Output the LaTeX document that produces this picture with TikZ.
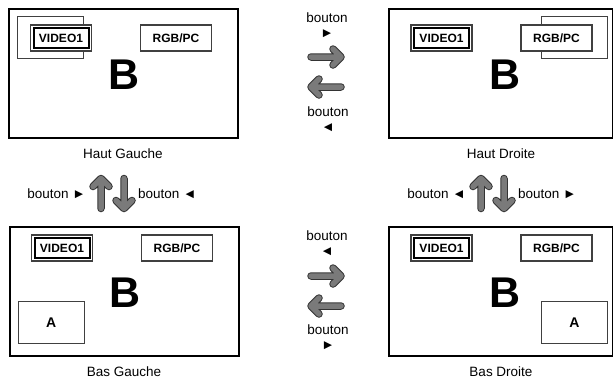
\documentclass[tikz,border=0pt]{standalone}
\usepackage{fontspec}
\setmainfont{Liberation Sans}
\usetikzlibrary{positioning}

\begin{document}
\begin{tikzpicture}[x=1pt, y=-1pt,
  screen/.style={draw, line width=2pt, minimum height=129pt, inner sep=0pt, anchor=north west},
  caption/.style={font=\fontsize{13.5}{15}\selectfont},
  btn/.style={font=\fontsize{13.5}{15}\selectfont, align=center, inner sep=0pt},
  bigB/.style={font=\fontsize{43}{43}\selectfont\bfseries, inner sep=0pt},
  winframe/.style={draw=black!75, line width=1pt, minimum width=66pt, minimum height=42pt, inner sep=0pt},
  abox/.style={winframe, line width=1.2pt, font=\fontsize{14}{14}\selectfont\bfseries},
  srcbox/.style={draw=black!75, line width=1.2pt, fill=white, minimum height=26pt, inner sep=0pt, font=\fontsize{12}{12}\selectfont\bfseries},
  selbox/.style={draw, line width=2pt, minimum width=55pt, minimum height=20pt, inner sep=0pt, font=\fontsize{12}{12}\selectfont\bfseries},
  big arrow/.pic={
    \draw[line width=7.5pt, black!80, line cap=round, line join=round] (-15,0) -- (15,0) (7,-8) -- (15,0) -- (7,8);
    \draw[line width=5.5pt, black!52, line cap=round, line join=round] (-15,0) -- (15,0) (7,-8) -- (15,0) -- (7,8);
  }]
\path[use as bounding box] (0,0) rectangle (613,383);

% the four screens
\foreach \n/\x/\y/\w/\lab in {HG/7.5/8/229/Haut Gauche, HD/388/8/224/Haut Droite,
                              BG/8.5/226/229/Bas Gauche, BD/388/226/224/Bas Droite}{
  \node[screen, minimum width=\w] (\n) at (\x,\y) {};
  \node[caption] (\n-cap) at ([yshift=-15pt]\n.south) {\lab};
  \node[bigB] (\n-B) at ([shift={(117,67)}]\n.north west) {B};
}

% sub-picture position
\node[winframe, anchor=north west] (HG-win) at ([shift={(9,8)}]HG.north west) {};
\node[winframe, anchor=north east] (HD-win) at ([shift={(-6,8)}]HD.north east) {};
\node[abox, anchor=north west] (BG-A) at ([shift={(9,75)}]BG.north west) {A};
\node[abox, anchor=north east] (BD-A) at ([shift={(-6,75)}]BD.north east) {A};

% inputs
\foreach \n/\b in {HG/30, HD/30, BG/22, BD/22}{
  \node[srcbox, minimum width=61pt] (\n-vo) at ([shift={(53.5,\b)}]\n.north west) {};
  \node[selbox] (\n-v) at (\n-vo) {VIDEO1};
  \node[srcbox, minimum width=71pt] (\n-rgb) at ([shift={(168.5,\b)}]\n.north west) {RGB/PC};
}

% buttons between top screens
\node[btn] (top-r) at (327,25.5) {bouton\\►};
\pic at (326,57) {big arrow};
\pic[rotate=180] at (326,87) {big arrow};
\node[btn] (top-l) at (328,119.5) {bouton\\◄};

% buttons between bottom screens
\node[btn] (bot-l) at (327,243.5) {bouton\\◄};
\pic at (326,276) {big arrow};
\pic[rotate=180] at (326,306) {big arrow};
\node[btn] (bot-r) at (328,337.5) {bouton\\►};

% buttons between top and bottom
\pic[rotate=90] at (101,193.5) {big arrow};
\pic[rotate=-90] at (124,193.5) {big arrow};
\node[btn, anchor=east] (lv-up) at (86,193.5) {bouton ►};
\node[btn, anchor=west] (lv-dn) at (138,193.5) {bouton ◄};
\pic[rotate=90] at (481,193.5) {big arrow};
\pic[rotate=-90] at (504,193.5) {big arrow};
\node[btn, anchor=east] (rv-up) at (466,193.5) {bouton ◄};
\node[btn, anchor=west] (rv-dn) at (518,193.5) {bouton ►};
\end{tikzpicture}
\end{document}
